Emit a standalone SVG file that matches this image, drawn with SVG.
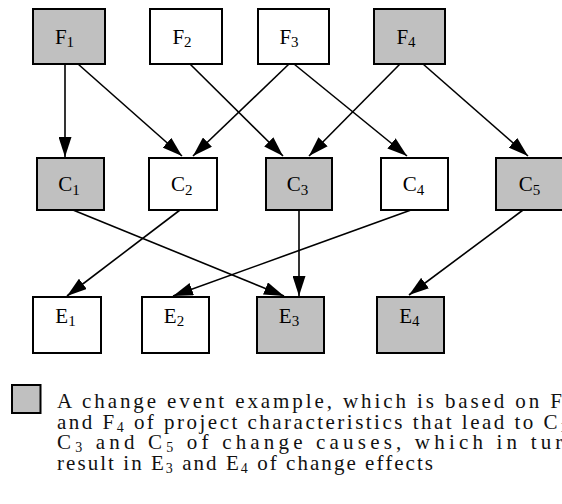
<svg xmlns="http://www.w3.org/2000/svg" width="562" height="504" viewBox="0 0 562 504">
<style>
  .box { stroke: #000; stroke-width: 2; }
  .g { fill: #c0c0c0; }
  .w { fill: #ffffff; }
  .lbl { font-family: "Liberation Serif", "Times New Roman", serif; font-size: 21px; fill: #000; text-anchor: middle; }
  .sub { font-size: 15px; }
  .edge { stroke: #000; stroke-width: 1.6; fill: none; marker-end: url(#arr); }
  .leg { font-family: "Liberation Serif", "Times New Roman", serif; font-size: 21px; fill: #111; }
  .lsub { font-size: 14px; }
</style>
<defs>
  <marker id="arr" markerUnits="userSpaceOnUse" markerWidth="20" markerHeight="13" refX="20" refY="6.5" orient="auto">
    <path d="M0,0 L20,6.5 L0,13 z" fill="#000"/>
  </marker>
</defs>
<rect x="0" y="0" width="562" height="504" fill="#fff"/>

<g id="connectors">
  <line class="edge" x1="65" y1="64" x2="65" y2="157"/>
  <line class="edge" x1="78" y1="64" x2="182" y2="156"/>
  <line class="edge" x1="289" y1="64" x2="193" y2="156"/>
  <line class="edge" x1="190" y1="64" x2="283" y2="156"/>
  <line class="edge" x1="294" y1="64" x2="407" y2="156"/>
  <line class="edge" x1="400" y1="64" x2="309" y2="156"/>
  <line class="edge" x1="423" y1="64" x2="528" y2="156"/>
  <line class="edge" x1="73" y1="210" x2="284" y2="296"/>
  <line class="edge" x1="180" y1="210" x2="67" y2="296"/>
  <line class="edge" x1="411" y1="210" x2="173" y2="296"/>
  <line class="edge" x1="299" y1="210" x2="299" y2="296"/>
  <line class="edge" x1="523" y1="210" x2="409" y2="295"/>
</g>

<g id="F1"><rect class="box g" x="33" y="9" width="72" height="55"/><text class="lbl" x="64.5" y="44">F<tspan class="sub" dy="3">1</tspan></text></g>
<g id="F2"><rect class="box w" x="150" y="9" width="72" height="55"/><text class="lbl" x="182" y="44">F<tspan class="sub" dy="3">2</tspan></text></g>
<g id="F3"><rect class="box w" x="258" y="9" width="71" height="55"/><text class="lbl" x="289" y="44">F<tspan class="sub" dy="3">3</tspan></text></g>
<g id="F4"><rect class="box g" x="374" y="9" width="71" height="55"/><text class="lbl" x="406" y="44">F<tspan class="sub" dy="3">4</tspan></text></g>

<g id="C1"><rect class="box g" x="37" y="158" width="67" height="52"/><text class="lbl" x="69" y="191">C<tspan class="sub" dy="4">1</tspan></text></g>
<g id="C2"><rect class="box w" x="149" y="158" width="68" height="52"/><text class="lbl" x="181.7" y="191">C<tspan class="sub" dy="4">2</tspan></text></g>
<g id="C3"><rect class="box g" x="266" y="158" width="66" height="52"/><text class="lbl" x="297.5" y="191">C<tspan class="sub" dy="4">3</tspan></text></g>
<g id="C4"><rect class="box w" x="381" y="158" width="67" height="52"/><text class="lbl" x="413.5" y="191">C<tspan class="sub" dy="4">4</tspan></text></g>
<g id="C5"><rect class="box g" x="496" y="158" width="67" height="52"/><text class="lbl" x="529.5" y="191">C<tspan class="sub" dy="4">5</tspan></text></g>

<g id="E1"><rect class="box w" x="33" y="297" width="68" height="56"/><text class="lbl" x="65.5" y="323">E<tspan class="sub" dy="3">1</tspan></text></g>
<g id="E2"><rect class="box w" x="142" y="297" width="67" height="56"/><text class="lbl" x="174" y="323">E<tspan class="sub" dy="3">2</tspan></text></g>
<g id="E3"><rect class="box g" x="257" y="297" width="67" height="56"/><text class="lbl" x="289" y="323">E<tspan class="sub" dy="3">3</tspan></text></g>
<g id="E4"><rect class="box g" x="377" y="297" width="67" height="56"/><text class="lbl" x="409.3" y="323">E<tspan class="sub" dy="3">4</tspan></text></g>

<g id="legend">
  <rect class="box g" x="12" y="385" width="28.5" height="28"/>
  <text class="leg" x="57" y="408" textLength="505" lengthAdjust="spacing">A change event example, which is based on F</text>
  <text class="leg" x="57" y="428.5" textLength="510" lengthAdjust="spacing">and F<tspan class="lsub" dy="3">4</tspan><tspan dy="-3"> of project characteristics that lead to C</tspan><tspan class="lsub" dy="3">1</tspan></text>
  <text class="leg" x="57" y="449" textLength="520" lengthAdjust="spacing">C<tspan class="lsub" dy="3">3</tspan><tspan dy="-3"> and C</tspan><tspan class="lsub" dy="3">5</tspan><tspan dy="-3"> of change causes, which in turn</tspan></text>
  <text class="leg" x="57" y="470" textLength="376" lengthAdjust="spacing">result in E<tspan class="lsub" dy="3">3</tspan><tspan dy="-3"> and E</tspan><tspan class="lsub" dy="3">4</tspan><tspan dy="-3"> of change effects</tspan></text>
</g>
</svg>
